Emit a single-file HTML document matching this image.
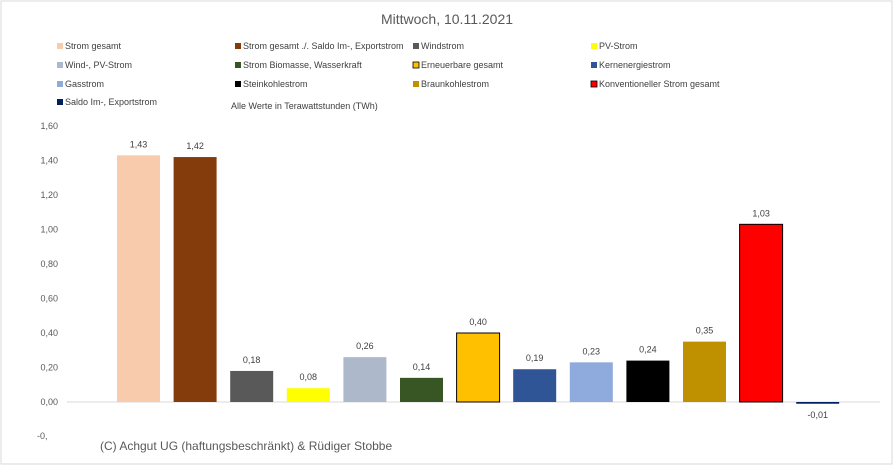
<!DOCTYPE html>
<html><head><meta charset="utf-8"><style>
body{margin:0;background:#fff;font-family:"Liberation Sans",sans-serif;}
#c{position:relative;width:893px;height:467px;overflow:hidden;}
</style></head><body>
<div id="c">
<svg id="s" width="893" height="467" xmlns="http://www.w3.org/2000/svg">
<rect x="1" y="1" width="891" height="463" fill="#fff" stroke="#d9d9d9"/>
<text x="447" y="24" text-anchor="middle" font-size="14" fill="#595959">Mittwoch, 10.11.2021</text>
<text x="231" y="109" font-size="9" fill="#404040">Alle Werte in Terawattstunden (TWh)</text>
<text x="100" y="450" font-size="12" fill="#595959">(C) Achgut UG (haftungsbeschränkt) &amp; Rüdiger Stobbe</text>
<g id="legend"></g>
<g id="axis"></g>
<g id="bars"></g>
</svg>
</div>
<script>
const categories=["Strom gesamt","Strom gesamt ./. Saldo Im-, Exportstrom","Windstrom","PV-Strom","Wind-, PV-Strom","Strom Biomasse, Wasserkraft","Erneuerbare gesamt","Kernenergiestrom","Gasstrom","Steinkohlestrom","Braunkohlestrom","Konventioneller Strom gesamt","Saldo Im-, Exportstrom"];
const values=[1.43,1.42,0.18,0.08,0.26,0.14,0.40,0.19,0.23,0.24,0.35,1.03,-0.01];
const colors=["#f8cbad","#843c0c","#595959","#ffff00","#adb9ca","#375623","#ffc000","#2f5597","#8faadc","#000000","#bf9000","#ff0000","#002060"];
const ticks=[0,0.2,0.4,0.6,0.8,1.0,1.2,1.4,1.6];
const NS="http://www.w3.org/2000/svg";
const y0=402, pxPer=172.5;
const yS=v=>y0-v*pxPer;
const xS=i=>117+i*56.6;
const bw=43;
function mk(tag,attrs,parent){const e=document.createElementNS(NS,tag);for(const k in attrs)e.setAttribute(k,attrs[k]);parent.appendChild(e);return e;}
const ax=document.getElementById('axis');
ticks.forEach(t=>{
 const e=mk('text',{x:58,y:yS(t)+3,'text-anchor':'end','font-size':9,fill:'#595959'},ax);
 e.textContent=t.toFixed(2).replace('.',',');
 
 
});
const neg=mk('text',{x:37,y:y0+37,'font-size':9,fill:'#595959'},ax);neg.textContent='-0,';


const zl=mk('line',{x1:67,x2:880,y1:y0,y2:y0,stroke:'#d9d9d9'},ax);


const bg=document.getElementById('bars');
values.forEach((v,i)=>{
 const x=xS(i);
 const top=Math.min(yS(v),y0),h=Math.abs(yS(v)-y0);
 const r=mk('rect',{x:x,y:top,width:bw,height:Math.max(h,1.5),fill:colors[i]},bg);
 if(i==6||i==11){r.setAttribute('stroke','#000');r.setAttribute('stroke-width','1');}
 
 
 const ly=v>=0?yS(v)-8:y0+16;
 const t=mk('text',{x:x+bw/2,y:ly,'text-anchor':'middle','font-size':9,fill:'#404040'},bg);
 t.textContent=v.toFixed(2).replace('.',',');
 
 
});
const lg=document.getElementById('legend');
const colX=[57,235,413,591],rowY=[49,68,87,105];
categories.forEach((c,i)=>{
 const col=i%4,row=Math.floor(i/4);
 const x=colX[col],y=rowY[row];
 const r=mk('rect',{x:x,y:y-6,width:6,height:6,fill:colors[i]},lg);
 if(i==6||i==11){r.setAttribute('stroke','#000');r.setAttribute('stroke-width','0.8');}
 
 
 const t=mk('text',{x:x+8,y:y,'font-size':9,fill:'#404040'},lg);
 t.textContent=c;
 
 
});
</script>
</body></html>
